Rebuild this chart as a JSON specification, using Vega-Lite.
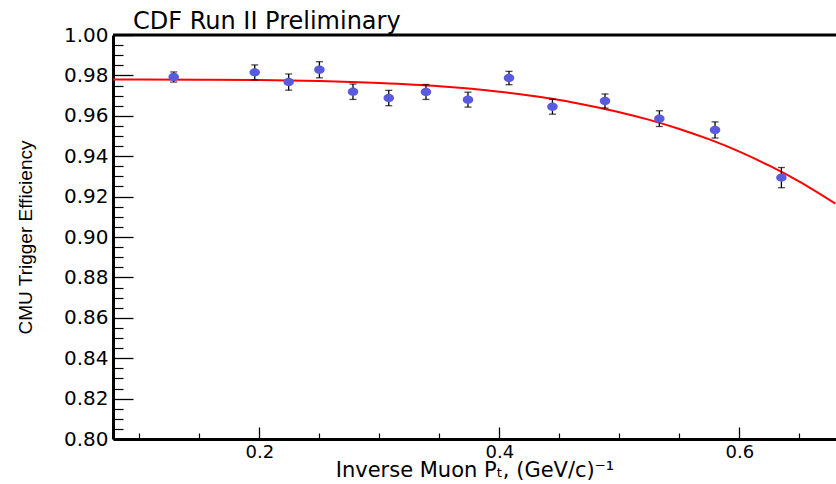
{
  "$schema": "https://vega.github.io/schema/vega-lite/v6.json",
  "width": 723,
  "height": 404,
  "autosize": {"type": "none"},
  "padding": {"left": 113, "top": 35, "right": 0, "bottom": 45},
  "background": "white",
  "view": {"stroke": null},
  "config": {
    "font": "DejaVu Sans",
    "axis": {"grid": false, "domainColor": "black", "domainWidth": 3, "tickColor": "black", "labelColor": "black", "titleColor": "black", "titleFontWeight": "normal"}
  },
  "title": {"text": "CDF Run II Preliminary", "anchor": "start", "frame": "group", "dx": 20, "offset": -28, "baseline": "alphabetic", "fontSize": 24, "fontWeight": "normal", "font": "DejaVu Sans", "color": "black"},
  "datasets": {
    "frame": [{"top": 1.0}],
    "fit": [
      {"x": 0.078, "eff": 0.978}, {"x": 0.1, "eff": 0.978}, {"x": 0.15, "eff": 0.9779}, {"x": 0.2, "eff": 0.9777},
      {"x": 0.25, "eff": 0.9772}, {"x": 0.3, "eff": 0.9762}, {"x": 0.35, "eff": 0.9746}, {"x": 0.4, "eff": 0.9719},
      {"x": 0.425, "eff": 0.97}, {"x": 0.45, "eff": 0.9678}, {"x": 0.475, "eff": 0.965}, {"x": 0.5, "eff": 0.9618},
      {"x": 0.525, "eff": 0.958}, {"x": 0.55, "eff": 0.9535}, {"x": 0.575, "eff": 0.9483}, {"x": 0.6, "eff": 0.9423},
      {"x": 0.625, "eff": 0.9353}, {"x": 0.65, "eff": 0.9274}, {"x": 0.68, "eff": 0.9165}
    ],
    "pts": [
      {"x": 0.1286, "eff": 0.9792, "err": 0.0025},
      {"x": 0.1961, "eff": 0.9815, "err": 0.0037},
      {"x": 0.2244, "eff": 0.9767, "err": 0.004},
      {"x": 0.25, "eff": 0.9828, "err": 0.004},
      {"x": 0.278, "eff": 0.9719, "err": 0.0038},
      {"x": 0.3078, "eff": 0.9688, "err": 0.0038},
      {"x": 0.3388, "eff": 0.9718, "err": 0.0037},
      {"x": 0.3738, "eff": 0.968, "err": 0.0037},
      {"x": 0.408, "eff": 0.9787, "err": 0.0033},
      {"x": 0.4442, "eff": 0.9645, "err": 0.0037},
      {"x": 0.488, "eff": 0.9673, "err": 0.0035},
      {"x": 0.5333, "eff": 0.9586, "err": 0.0039},
      {"x": 0.5797, "eff": 0.953, "err": 0.004},
      {"x": 0.635, "eff": 0.9294, "err": 0.005}
    ]
  },
  "layer": [
    {
      "data": {"name": "frame"},
      "mark": {"type": "rule", "color": "black", "strokeWidth": 3},
      "encoding": {"y": {"field": "top", "type": "quantitative", "axis": null}}
    },
    {
      "data": {"name": "fit"},
      "mark": {"type": "line", "color": "#ff0000", "strokeWidth": 2, "interpolate": "monotone", "clip": true},
      "encoding": {
        "x": {"field": "x", "type": "quantitative",
          "scale": {"domain": [0.078, 0.6805], "nice": false, "zero": false},
          "axis": {"orient": "bottom", "values": [0.2, 0.4, 0.6], "format": ".1f", "tickSize": -12, "tickWidth": 1.3, "labelPadding": 16, "labelFontSize": 18, "labelFont": "DejaVu Sans", "labelFlush": false, "labelOverlap": false,
            "title": "Inverse Muon Pₜ, (GeV/c)⁻¹", "titleFontSize": 21, "titleFont": "DejaVu Sans", "titleBaseline": "alphabetic", "titleY": 37}},
        "y": {"field": "eff", "type": "quantitative",
          "scale": {"domain": [0.8, 1.0], "nice": false, "zero": false},
          "axis": {"orient": "left", "values": [0.8, 0.82, 0.84, 0.86, 0.88, 0.9, 0.92, 0.94, 0.96, 0.98, 1.0], "format": ".2f", "tickSize": -20, "tickWidth": 1.3, "labelPadding": 25, "labelFontSize": 20, "labelFont": "DejaVu Sans", "labelFlush": false, "labelOverlap": false,
            "title": "CMU Trigger Efficiency", "titleFont": "Liberation Sans", "titleFontSize": 19, "titleAngle": -90, "titleBaseline": "alphabetic", "titleAlign": "center", "titleX": -82, "titleY": 202}}
      }
    },
    {
      "data": {"name": "pts"},
      "mark": {"type": "errorbar", "color": "black", "thickness": 1.3, "ticks": {"size": 7, "color": "black", "thickness": 1.3}},
      "encoding": {
        "x": {"field": "x", "type": "quantitative",
          "axis": {"orient": "bottom", "values": [0.1, 0.15, 0.25, 0.3, 0.35, 0.45, 0.5, 0.55, 0.65], "tickSize": -6, "tickWidth": 1.2, "labels": false, "domain": false, "title": null}},
        "y": {"field": "eff", "type": "quantitative",
          "axis": {"orient": "left", "values": [0.805, 0.81, 0.815, 0.825, 0.83, 0.835, 0.845, 0.85, 0.855, 0.865, 0.87, 0.875, 0.885, 0.89, 0.895, 0.905, 0.91, 0.915, 0.925, 0.93, 0.935, 0.945, 0.95, 0.955, 0.965, 0.97, 0.975, 0.985, 0.99, 0.995], "tickSize": -10, "tickWidth": 1.2, "labels": false, "domain": false, "title": null}},
        "yError": {"field": "err"}
      }
    },
    {
      "data": {"name": "pts"},
      "mark": {"type": "point", "filled": true, "shape": "M -1 0 A 1 0.8 0 1 0 1 0 A 1 0.8 0 1 0 -1 0 Z", "size": 110, "color": "#5a5ade", "opacity": 1},
      "encoding": {
        "x": {"field": "x", "type": "quantitative", "axis": null},
        "y": {"field": "eff", "type": "quantitative", "axis": null}
      }
    }
  ],
  "resolve": {"axis": {"x": "independent", "y": "independent"}}
}
